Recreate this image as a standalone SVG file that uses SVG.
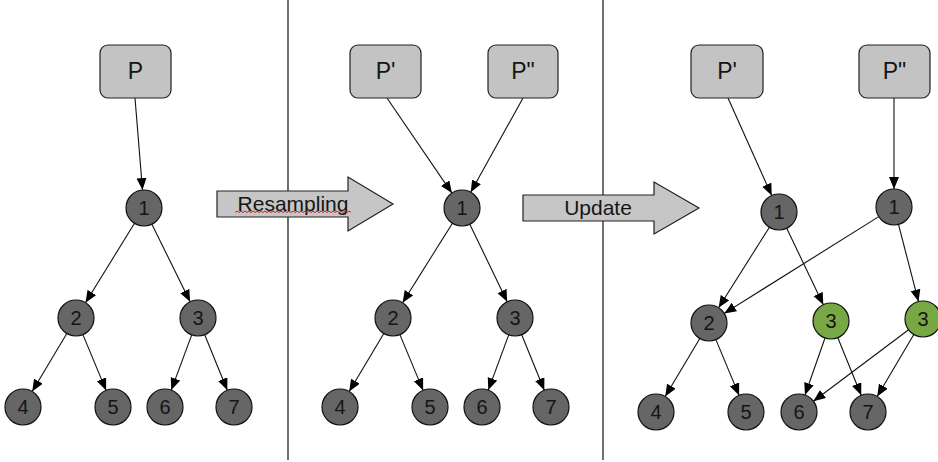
<svg xmlns="http://www.w3.org/2000/svg" width="938" height="462" viewBox="0 0 938 462">
<style>
.box{fill:#c3c3c3;stroke:#222;stroke-width:1.2}
.nd{fill:#666;stroke:#111;stroke-width:1.2}
.gn{fill:#78a843;stroke:#111;stroke-width:1.2}
.big{fill:#c6c6c6;stroke:#222;stroke-width:1.2}
.e{stroke:#111;stroke-width:1.1;fill:none;marker-end:url(#ah)}
text{font-family:"Liberation Sans",Arial,sans-serif;fill:#151515;text-anchor:middle;dominant-baseline:central}
.pl{font-size:23px}
.nl{font-size:20px}
.al{font-size:21px}
.div{stroke:#111;stroke-width:1.2}
</style>
<defs>
<marker id="ah" markerUnits="userSpaceOnUse" markerWidth="13" markerHeight="11" refX="12" refY="5" orient="auto">
<path d="M0,0 L12,5 L0,10 z" fill="#000"/>
</marker>
</defs>
<rect width="938" height="462" fill="#fff"/>
<g id="dividers">
<line class="div" x1="288" y1="0" x2="288" y2="460"/>
<line class="div" x1="603" y1="0" x2="603" y2="460"/>
</g>
<g id="connectors">
<line class="e" x1="135" y1="98" x2="142.5" y2="190.1"/>
<line class="e" x1="134.5" y1="223.3" x2="85.5" y2="302.7"/>
<line class="e" x1="151.9" y1="224.2" x2="190.1" y2="301.8"/>
<line class="e" x1="66.8" y1="333.5" x2="32.2" y2="391.5"/>
<line class="e" x1="82.9" y1="334.6" x2="106.1" y2="390.4"/>
<line class="e" x1="191.7" y1="334.9" x2="171.3" y2="390.1"/>
<line class="e" x1="204.7" y1="334.7" x2="227.3" y2="390.3"/>

<line class="e" x1="387" y1="98" x2="451.9" y2="193.1"/>
<line class="e" x1="523" y1="98" x2="470.7" y2="192.3"/>
<line class="e" x1="452.4" y1="223.2" x2="402.6" y2="302.8"/>
<line class="e" x1="469.8" y1="224.2" x2="507.2" y2="301.8"/>
<line class="e" x1="383.8" y1="333.5" x2="349.2" y2="391.5"/>
<line class="e" x1="399.9" y1="334.6" x2="423.1" y2="390.4"/>
<line class="e" x1="508.7" y1="334.9" x2="488.3" y2="390.1"/>
<line class="e" x1="521.7" y1="334.7" x2="544.3" y2="390.3"/>

<line class="e" x1="728" y1="98" x2="771.7" y2="195.6"/>
<line class="e" x1="894" y1="98" x2="894" y2="189"/>
<line class="e" x1="769.4" y1="227.2" x2="718.6" y2="307.8"/>
<line class="e" x1="786.7" y1="228.2" x2="823.3" y2="304.8"/>
<line class="e" x1="878.8" y1="216.6" x2="724.2" y2="313.4"/>
<line class="e" x1="898.5" y1="224.4" x2="918.5" y2="301.6"/>
<line class="e" x1="699.8" y1="338.5" x2="665.2" y2="396.5"/>
<line class="e" x1="715.9" y1="339.6" x2="739.1" y2="395.4"/>
<line class="e" x1="825" y1="338" x2="805" y2="395"/>
<line class="e" x1="837.8" y1="337.7" x2="861.2" y2="395.3"/>
<line class="e" x1="908.6" y1="329.8" x2="813.4" y2="401.2"/>
<line class="e" x1="913.8" y1="334.5" x2="877.2" y2="396.5"/>
</g>
<g id="arrow-resampling">
<polygon class="big" points="217,191 348,191 348,177 393,204 348,231 348,217 217,217"/>
<text class="al" x="293" y="203">Resampling</text>
<path d="M235,212.5 l2,-1.5 l2,1.5 l2,-1.5 l2,1.5 l2,-1.5 l2,1.5 l2,-1.5 l2,1.5 l2,-1.5 l2,1.5 l2,-1.5 l2,1.5 l2,-1.5 l2,1.5 l2,-1.5 l2,1.5 l2,-1.5 l2,1.5 l2,-1.5 l2,1.5 l2,-1.5 l2,1.5 l2,-1.5 l2,1.5 l2,-1.5 l2,1.5 l2,-1.5 l2,1.5 l2,-1.5 l2,1.5 l2,-1.5 l2,1.5 l2,-1.5 l2,1.5 l2,-1.5 l2,1.5 l2,-1.5 l2,1.5 l2,-1.5 l2,1.5 l2,-1.5 l2,1.5 l2,-1.5 l2,1.5 l2,-1.5 l2,1.5 l2,-1.5 l2,1.5 l2,-1.5 l2,1.5 l2,-1.5 l2,1.5 l2,-1.5 l2,1.5 l2,-1.5 l2,1.5 l2,-1.5 l2,1.5" fill="none" stroke="#d02020" stroke-width="1"/>
</g>
<g id="arrow-update">
<polygon class="big" points="523,195 654,195 654,182 699,208 654,234 654,221 523,221"/>
<text class="al" x="598" y="207">Update</text>
</g>

<g id="p1-P"><rect class="box" x="100" y="45" width="71" height="53" rx="8"/><text class="pl" x="135.5" y="71">P</text></g>
<g id="p1-n1"><circle class="nd" cx="144" cy="208" r="18"/><text class="nl" x="144" y="208">1</text></g>
<g id="p1-n2"><circle class="nd" cx="76" cy="318" r="18"/><text class="nl" x="76" y="318">2</text></g>
<g id="p1-n3"><circle class="nd" cx="198" cy="318" r="18"/><text class="nl" x="198" y="318">3</text></g>
<g id="p1-n4"><circle class="nd" cx="23" cy="407" r="18"/><text class="nl" x="23" y="407">4</text></g>
<g id="p1-n5"><circle class="nd" cx="113" cy="407" r="18"/><text class="nl" x="113" y="407">5</text></g>
<g id="p1-n6"><circle class="nd" cx="165" cy="407" r="18"/><text class="nl" x="165" y="407">6</text></g>
<g id="p1-n7"><circle class="nd" cx="234" cy="407" r="18"/><text class="nl" x="234" y="407">7</text></g>

<g id="p2-P1"><rect class="box" x="350" y="45" width="71" height="53" rx="8"/><text class="pl" x="385.5" y="71">P'</text></g>
<g id="p2-P2"><rect class="box" x="488" y="45" width="70" height="53" rx="8"/><text class="pl" x="523" y="71">P"</text></g>
<g id="p2-n1"><circle class="nd" cx="462" cy="208" r="18"/><text class="nl" x="462" y="208">1</text></g>
<g id="p2-n2"><circle class="nd" cx="393" cy="318" r="18"/><text class="nl" x="393" y="318">2</text></g>
<g id="p2-n3"><circle class="nd" cx="515" cy="318" r="18"/><text class="nl" x="515" y="318">3</text></g>
<g id="p2-n4"><circle class="nd" cx="340" cy="407" r="18"/><text class="nl" x="340" y="407">4</text></g>
<g id="p2-n5"><circle class="nd" cx="430" cy="407" r="18"/><text class="nl" x="430" y="407">5</text></g>
<g id="p2-n6"><circle class="nd" cx="482" cy="407" r="18"/><text class="nl" x="482" y="407">6</text></g>
<g id="p2-n7"><circle class="nd" cx="551" cy="407" r="18"/><text class="nl" x="551" y="407">7</text></g>

<g id="p3-P1"><rect class="box" x="691" y="45" width="72" height="53" rx="8"/><text class="pl" x="727" y="71">P'</text></g>
<g id="p3-P2"><rect class="box" x="859" y="45" width="71" height="53" rx="8"/><text class="pl" x="894.5" y="71">P"</text></g>
<g id="p3-n1a"><circle class="nd" cx="779" cy="212" r="18"/><text class="nl" x="779" y="212">1</text></g>
<g id="p3-n1b"><circle class="nd" cx="894" cy="207" r="18"/><text class="nl" x="894" y="207">1</text></g>
<g id="p3-n2"><circle class="nd" cx="709" cy="323" r="18"/><text class="nl" x="709" y="323">2</text></g>
<g id="p3-n3a"><circle class="gn" cx="831" cy="321" r="18"/><text class="nl" x="831" y="321">3</text></g>
<g id="p3-n3b"><circle class="gn" cx="923" cy="319" r="18"/><text class="nl" x="923" y="319">3</text></g>
<g id="p3-n4"><circle class="nd" cx="656" cy="412" r="18"/><text class="nl" x="656" y="412">4</text></g>
<g id="p3-n5"><circle class="nd" cx="746" cy="412" r="18"/><text class="nl" x="746" y="412">5</text></g>
<g id="p3-n6"><circle class="nd" cx="799" cy="412" r="18"/><text class="nl" x="799" y="412">6</text></g>
<g id="p3-n7"><circle class="nd" cx="868" cy="412" r="18"/><text class="nl" x="868" y="412">7</text></g>
</svg>
